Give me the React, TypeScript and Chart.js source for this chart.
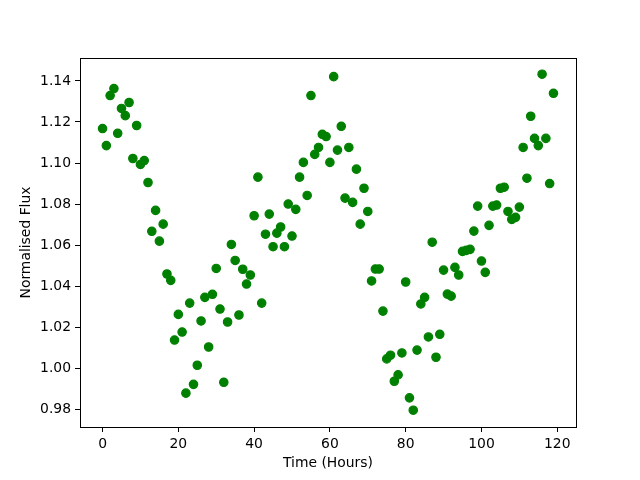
import { useEffect, useRef } from 'react';
import { Chart, registerables } from 'chart.js';

Chart.register(...registerables);

const hours = [
  0, 1, 2, 3, 4, 5, 6, 7, 8, 9, 10, 11, 12, 13, 14, 15, 16, 17, 18, 19,
  20, 21, 22, 23, 24, 25, 26, 27, 28, 29, 30, 31, 32, 33, 34, 35, 36, 37, 38, 39,
  40, 41, 42, 43, 44, 45, 46, 47, 48, 49, 50, 51, 52, 53, 54, 55, 56, 57, 58, 59,
  60, 61, 62, 63, 64, 65, 66, 67, 68, 69, 70, 71, 72, 73, 74, 75, 76, 77, 78, 79,
  80, 81, 82, 83, 84, 85, 86, 87, 88, 89, 90, 91, 92, 93, 94, 95, 96, 97, 98, 99,
  100, 101, 102, 103, 104, 105, 106, 107, 108, 109, 110, 111, 112, 113, 114, 115, 116, 117, 118, 119,
];

const flux = [
  1.1168, 1.1085, 1.1329, 1.1363, 1.1145, 1.1266, 1.1231, 1.1295, 1.1022, 1.1183,
  1.0993, 1.1012, 1.0905, 1.0667, 1.0769, 1.0619, 1.0702, 1.0459, 1.0428, 1.0137,
  1.0262, 1.0176, 0.9878, 1.0317, 0.9921, 1.0014, 1.0230, 1.0345, 1.0103, 1.0360,
  1.0486, 1.0288, 0.9931, 1.0225, 1.0603, 1.0525, 1.0259, 1.0482, 1.0410, 1.0454,
  1.0743, 1.0931, 1.0317, 1.0653, 1.0751, 1.0592, 1.0658, 1.0688, 1.0592, 1.0800,
  1.0644, 1.0774, 1.0931, 1.1003, 1.0842, 1.1329, 1.1042, 1.1076, 1.1140, 1.1129,
  1.1003, 1.1421, 1.1063, 1.1179, 1.0829, 1.1076, 1.0808, 1.0970, 1.0702, 1.0877,
  1.0764, 1.0425, 1.0483, 1.0483, 1.0278, 1.0045, 1.0063, 0.9936, 0.9967, 1.0074,
  1.0420, 0.9855, 0.9795, 1.0088, 1.0313, 1.0345, 1.0152, 1.0614, 1.0053, 1.0165,
  1.0478, 1.0361, 1.0351, 1.0491, 1.0454, 1.0569, 1.0574, 1.0579, 1.0668, 1.0790,
  1.0522, 1.0467, 1.0696, 1.0790, 1.0795, 1.0877, 1.0882, 1.0764, 1.0725, 1.0735,
  1.0785, 1.1076, 1.0926, 1.1228, 1.1120, 1.1085, 1.1433, 1.1120, 1.0900, 1.1340,
];

const xTickValues = [0, 20, 40, 60, 80, 100, 120];
const yTickValues = [0.98, 1.0, 1.02, 1.04, 1.06, 1.08, 1.1, 1.12, 1.14];

const FONT = 'DejaVu Sans';

const framePlugin = {
  id: 'frame',
  afterDraw(chart: any) {
    const { ctx, chartArea } = chart;
    ctx.save();
    ctx.strokeStyle = '#000';
    ctx.lineWidth = 1;
    ctx.strokeRect(
      Math.round(chartArea.left) + 0.5,
      Math.round(chartArea.top) + 0.5,
      Math.round(chartArea.right - chartArea.left),
      Math.round(chartArea.bottom - chartArea.top)
    );
    ctx.restore();
  },
};

export default function App() {
  const ref = useRef<HTMLCanvasElement | null>(null);

  useEffect(() => {
    document.body.style.margin = '0';
    const canvas = ref.current;
    if (!canvas) return;
    const points = hours.map((h, i) => ({ x: h, y: flux[i] }));
    const chart = new Chart(canvas, {
      type: 'scatter',
      data: {
        datasets: [
          {
            data: points,
            backgroundColor: '#008000',
            borderColor: '#008000',
            pointRadius: 4.2,
            pointBorderWidth: 1.2,
            pointHoverRadius: 4.2,
          },
        ],
      },
      options: {
        animation: false,
        responsive: false,
        devicePixelRatio: 1,
        layout: { padding: { left: 0, right: 64, top: 58, bottom: 0 } },
        plugins: {
          legend: { display: false },
          tooltip: { enabled: false },
        },
        scales: {
          x: {
            type: 'linear',
            min: -5.95,
            max: 124.95,
            afterFit: (s: any) => {
              s.height = 53;
            },
            afterBuildTicks: (s: any) => {
              s.ticks = xTickValues.map((v) => ({ value: v }));
            },
            grid: {
              display: true,
              drawOnChartArea: false,
              drawTicks: true,
              tickLength: 5,
              color: '#000',
            },
            border: { display: false },
            ticks: {
              color: '#000',
              padding: 4,
              maxRotation: 0,
              font: { family: FONT, size: 13.9 },
              callback: (v: any) => String(v),
            },
            title: {
              display: true,
              text: 'Time (Hours)',
              color: '#000',
              font: { family: FONT, size: 13.9 },
              padding: { top: 0, bottom: 8.5 },
            },
          },
          y: {
            type: 'linear',
            min: 0.9713,
            max: 1.1512,
            afterFit: (s: any) => {
              s.width = 80;
            },
            afterBuildTicks: (s: any) => {
              s.ticks = yTickValues.map((v) => ({ value: v }));
            },
            grid: {
              display: true,
              drawOnChartArea: false,
              drawTicks: true,
              tickLength: 5,
              color: '#000',
            },
            border: { display: false },
            ticks: {
              color: '#000',
              padding: 4,
              font: { family: FONT, size: 13.9 },
              callback: (v: any) => Number(v).toFixed(2),
            },
            title: {
              display: true,
              text: 'Normalised Flux',
              color: '#000',
              font: { family: FONT, size: 13.9 },
              padding: { top: 18.5, bottom: 0 },
            },
          },
        },
      },
      plugins: [framePlugin],
    });
    return () => chart.destroy();
  }, []);

  return (
    <div style={{ width: 640, height: 480 }}>
      <canvas ref={ref} width={640} height={480} />
    </div>
  );
}
